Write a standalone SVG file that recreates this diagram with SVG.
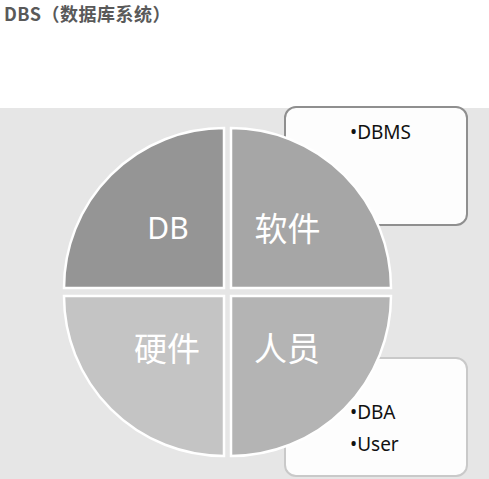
<svg xmlns="http://www.w3.org/2000/svg" width="489" height="479" viewBox="0 0 489 479">
<style>
.title{font-family:"Noto Sans CJK SC","Noto Sans",sans-serif;font-weight:bold;font-size:18px;letter-spacing:0.5px;fill:#595959}
.box{fill:#fdfdfd;stroke-width:2}
.slice{stroke:#ffffff;stroke-width:2.5}
.lbl{font-family:"Noto Sans","Noto Sans CJK SC",sans-serif;font-size:30px;fill:#ffffff;text-anchor:middle}
.cjk{font-family:"Noto Sans CJK SC",sans-serif;font-size:33px;fill:#ffffff;text-anchor:middle}
.item{font-family:"Noto Sans","Liberation Sans",sans-serif;font-size:19px;fill:#111111}
</style>
<rect x="0" y="0" width="489" height="479" fill="#ffffff"/>
<text class="title" x="4" y="21">DBS（数据库系统）</text>
<rect x="0" y="108" width="489" height="371" fill="#e6e6e6"/>
<g id="box-software">
<rect class="box" x="285" y="107" width="182" height="118" rx="11" stroke="#8f8f8f"/>
<text class="item" x="350" y="139">•DBMS</text>
</g>
<g id="box-people">
<rect class="box" x="285" y="358" width="182" height="118" rx="11" stroke="#c9c9c9"/>
<text class="item" x="350" y="419">•DBA</text>
<text class="item" x="350" y="451">•User</text>
</g>
<g id="connectors"></g>
<g id="slice-db">
<path class="slice" fill="#959595" d="M224,288 L64,288 A160,160 0 0 1 224,128 Z"/>
<text class="lbl" x="168" y="239">DB</text>
</g>
<g id="slice-software">
<path class="slice" fill="#a6a6a6" d="M231,288 L231,128 A160,160 0 0 1 391,288 Z"/>
<text class="cjk" x="287.5" y="241">软件</text>
</g>
<g id="slice-people">
<path class="slice" fill="#b4b4b4" d="M231,296 L391,296 A160,160 0 0 1 231,456 Z"/>
<text class="cjk" x="287" y="361">人员</text>
</g>
<g id="slice-hardware">
<path class="slice" fill="#c4c4c4" d="M224,296 L224,456 A160,160 0 0 1 64,296 Z"/>
<text class="cjk" x="167" y="361">硬件</text>
</g>
</svg>
